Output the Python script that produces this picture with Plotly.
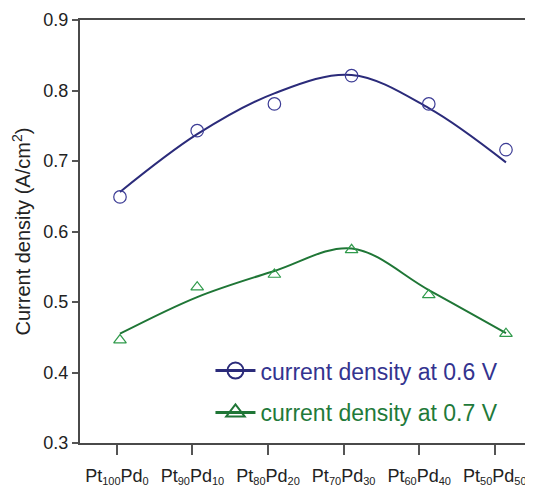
import plotly.graph_objects as go

SUB = "<sub><span style='font-size:11px'>{}</span></sub>"
comps = [(100, 0), (90, 10), (80, 20), (70, 30), (60, 40), (50, 50)]
categories = ["Pt" + SUB.format(a) + "Pd" + SUB.format(b) for a, b in comps]
cd_06 = [0.649, 0.743, 0.781, 0.821, 0.781, 0.716]
cd_07 = [0.446, 0.521, 0.539, 0.574, 0.510, 0.455]
fit_06 = [0.656, 0.738, 0.796, 0.822, 0.775, 0.698]
fit_07 = [0.455, 0.507, 0.544, 0.576, 0.517, 0.456]
y_ticks = [0.3, 0.4, 0.5, 0.6, 0.7, 0.8, 0.9]
y_title = "Current density (A/cm<sup>2</sup>)"

xs = list(range(len(categories)))
# tick positions are slightly offset/compressed relative to data points in the reference
tick_pos = [i * 0.979 - 0.04 for i in xs]

NAVY = "#2b2b7a"
NAVY_M = "#3c3c95"
GREEN = "#1f7636"
GREEN_M = "#2f9a4b"

fig = go.Figure()
fig.add_trace(go.Scatter(x=xs, y=fit_06, mode="lines", line=dict(color=NAVY, width=2, shape="spline", smoothing=1.0),
                         showlegend=False, hoverinfo="skip"))
fig.add_trace(go.Scatter(x=xs, y=fit_07, mode="lines", line=dict(color=GREEN, width=2, shape="spline", smoothing=1.0),
                         showlegend=False, hoverinfo="skip"))
fig.add_trace(go.Scatter(x=xs, y=cd_06, mode="markers",
                         marker=dict(symbol="circle-open", size=12.5, color=NAVY_M, line=dict(width=1.2)),
                         showlegend=False))
fig.add_trace(go.Scatter(x=xs, y=cd_07, mode="markers",
                         marker=dict(symbol="triangle-up-open", size=11, color=GREEN_M, line=dict(width=1.2)),
                         showlegend=False))
# legend entries
fig.add_trace(go.Scatter(x=[None], y=[None], mode="lines+markers", legendgroup="a",
                         name='<span style="color:#33338f">current density at 0.6 V</span>',
                         line=dict(color=NAVY, width=3),
                         marker=dict(symbol="circle-open", size=16, color=NAVY, line=dict(width=2))))
fig.add_trace(go.Scatter(x=[None], y=[None], mode="lines+markers", legendgroup="b",
                         name='<span style="color:#1f7a3a">current density at 0.7 V</span>',
                         line=dict(color=GREEN, width=3),
                         marker=dict(symbol="triangle-up-open", size=16, color=GREEN, line=dict(width=2))))

fig.add_annotation(text=y_title, xref="paper", yref="paper", x=0, y=0.5, xanchor="center", yanchor="middle",
                   xshift=-59, textangle=-90, showarrow=False, font=dict(size=20, color="#222"))

fig.update_layout(
    width=525, height=480,
    margin=dict(l=72, r=0, t=12, b=45, autoexpand=False),
    plot_bgcolor="white", paper_bgcolor="white",
    font=dict(family="Liberation Sans, Arial, sans-serif", color="#222"),
    legend=dict(x=0.288, y=0.222, xanchor="left", yanchor="top", bgcolor="rgba(0,0,0,0)",
                font=dict(size=23), tracegroupgap=9, traceorder="grouped", itemwidth=40),
    xaxis=dict(range=[-0.518, 5.35], tickmode="array", tickvals=tick_pos, ticktext=categories,
               showline=True, linecolor="#4a4a4a", linewidth=2, mirror=True, automargin=False,
               ticks="outside", ticklen=10, tickcolor="#555", tickwidth=1.5, ticklabelstandoff=5,
               showgrid=False, zeroline=False, tickfont=dict(size=18, color="#222")),
    yaxis=dict(range=[0.3, 0.9], tickvals=y_ticks, tickformat=".1f", automargin=False,
               showline=True, linecolor="#4a4a4a", linewidth=2, mirror=False,
               ticks="outside", ticklen=6, tickcolor="#555", tickwidth=1.5,
               showgrid=False, zeroline=False, tickfont=dict(size=18, color="#222")),
)

fig.write_html("out.html")
